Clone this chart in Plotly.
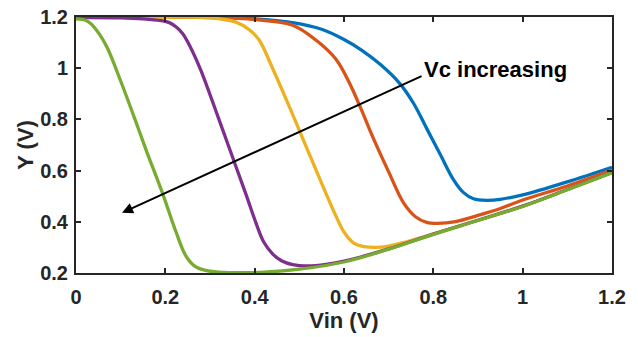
import plotly.graph_objects as go

# Data (Vin in V, Y in V), one curve per Vc value
vin_blue = [0.0, 0.2, 0.3, 0.4, 0.485, 0.55, 0.6, 0.64, 0.681, 0.725, 0.755, 0.785, 0.815, 0.845, 0.867, 0.89, 0.92, 0.95, 1.0, 1.1, 1.2]
y_blue = [1.2, 1.2, 1.199, 1.193, 1.178, 1.152, 1.112, 1.07, 1.015, 0.94, 0.865, 0.765, 0.665, 0.565, 0.515, 0.49, 0.484, 0.488, 0.505, 0.556, 0.613]

vin_orange = [0.0, 0.2, 0.3, 0.4, 0.485, 0.537, 0.582, 0.61, 0.636, 0.666, 0.70, 0.733, 0.76, 0.785, 0.81, 0.85, 0.9, 0.95, 1.0, 1.1, 1.2]
y_orange = [1.2, 1.2, 1.198, 1.19, 1.168, 1.11, 1.035, 0.95, 0.85, 0.725, 0.595, 0.475, 0.42, 0.398, 0.394, 0.401, 0.425, 0.452, 0.485, 0.54, 0.602]

vin_yellow = [0.0, 0.2, 0.3, 0.358, 0.388, 0.41, 0.44, 0.48, 0.515, 0.55, 0.58, 0.60, 0.621, 0.645, 0.67, 0.70, 0.74, 0.8, 0.9, 1.0, 1.1, 1.2]
y_yellow = [1.2, 1.199, 1.197, 1.18, 1.15, 1.11, 1.0, 0.84, 0.695, 0.55, 0.43, 0.36, 0.318, 0.303, 0.300, 0.305, 0.322, 0.353, 0.406, 0.461, 0.526, 0.593]

vin_purple = [0.0, 0.1, 0.15, 0.19, 0.209, 0.225, 0.239, 0.254, 0.28, 0.32, 0.351, 0.38, 0.403, 0.42, 0.44, 0.46, 0.485, 0.52, 0.56, 0.6, 0.7, 0.8, 0.9, 1.0, 1.1, 1.2]
y_purple = [1.198, 1.197, 1.193, 1.186, 1.178, 1.16, 1.135, 1.09, 0.99, 0.80, 0.65, 0.51, 0.395, 0.322, 0.275, 0.248, 0.233, 0.228, 0.234, 0.246, 0.294, 0.352, 0.406, 0.461, 0.526, 0.593]

vin_green = [0.0, 0.02, 0.034, 0.052, 0.07, 0.1, 0.13, 0.157, 0.194, 0.224, 0.245, 0.265, 0.29, 0.33, 0.37, 0.42, 0.5, 0.6, 0.7, 0.8, 0.9, 1.0, 1.1, 1.2]
y_green = [1.193, 1.188, 1.173, 1.134, 1.08, 0.95, 0.81, 0.68, 0.51, 0.36, 0.27, 0.228, 0.21, 0.202, 0.201, 0.203, 0.215, 0.243, 0.293, 0.351, 0.405, 0.46, 0.525, 0.592]

x_ticks = [0, 0.2, 0.4, 0.6, 0.8, 1.0, 1.2]
x_tick_labels = ["0", "0.2", "0.4", "0.6", "0.8", "1", "1.2"]
y_ticks = [0.2, 0.4, 0.6, 0.8, 1.0, 1.2]
y_tick_labels = ["0.2", "0.4", "0.6", "0.8", "1", "1.2"]

arrow_tail = (0.777, 0.972)
arrow_head = (0.103, 0.435)
label_pos = (0.774, 0.995)
label_text = "Vc increasing"

series = [
    (vin_blue, y_blue, "#0072BD"),
    (vin_orange, y_orange, "#D95319"),
    (vin_yellow, y_yellow, "#EDB120"),
    (vin_purple, y_purple, "#7E2F8E"),
    (vin_green, y_green, "#77AC30"),
]

fig = go.Figure()
for xs, ys, col in series:
    fig.add_trace(go.Scatter(x=xs, y=ys, mode="lines",
                             line=dict(color=col, width=3.3, shape="spline", smoothing=1.0),
                             showlegend=False, hoverinfo="skip"))

font_fam = "Liberation Sans, Arial, sans-serif"
axis_common = dict(
    showline=True, linecolor="#262626", linewidth=2, mirror="ticks",
    ticks="inside", ticklen=5, tickwidth=2, tickcolor="#262626",
    showgrid=False, zeroline=False, automargin=False,
    tickfont=dict(family=font_fam, size=20, color="#262626", weight="bold"),
)

fig.update_xaxes(range=[0, 1.2], tickvals=x_ticks, ticktext=x_tick_labels,
                 title=dict(text="<b>Vin (V)</b>", font=dict(family=font_fam, size=22, color="#262626"), standoff=2),
                 ticklabelstandoff=5, **axis_common)
fig.update_yaxes(range=[0.2, 1.2], tickvals=y_ticks, ticktext=y_tick_labels,
                 title=dict(text="<b>Y (V)</b>", font=dict(family=font_fam, size=22, color="#262626"), standoff=0),
                 ticklabelstandoff=2, **axis_common)

fig.add_annotation(x=arrow_head[0], y=arrow_head[1], ax=arrow_tail[0], ay=arrow_tail[1],
                   xref="x", yref="y", axref="x", ayref="y", text="",
                   showarrow=True, arrowhead=2, arrowsize=1.1, arrowwidth=2, arrowcolor="black")
fig.add_annotation(x=label_pos[0], y=label_pos[1], xref="x", yref="y", text="<b>" + label_text + "</b>",
                   showarrow=False, xanchor="left", yanchor="middle",
                   font=dict(family=font_fam, size=22, color="black"))

fig.update_layout(width=638, height=337, margin=dict(l=76, r=26, t=17, b=64),
                  plot_bgcolor="white", paper_bgcolor="white")

fig.write_html("out.html", config={"displayModeBar": False},
               post_script="document.body.style.margin='0';document.body.style.overflow='hidden';")
